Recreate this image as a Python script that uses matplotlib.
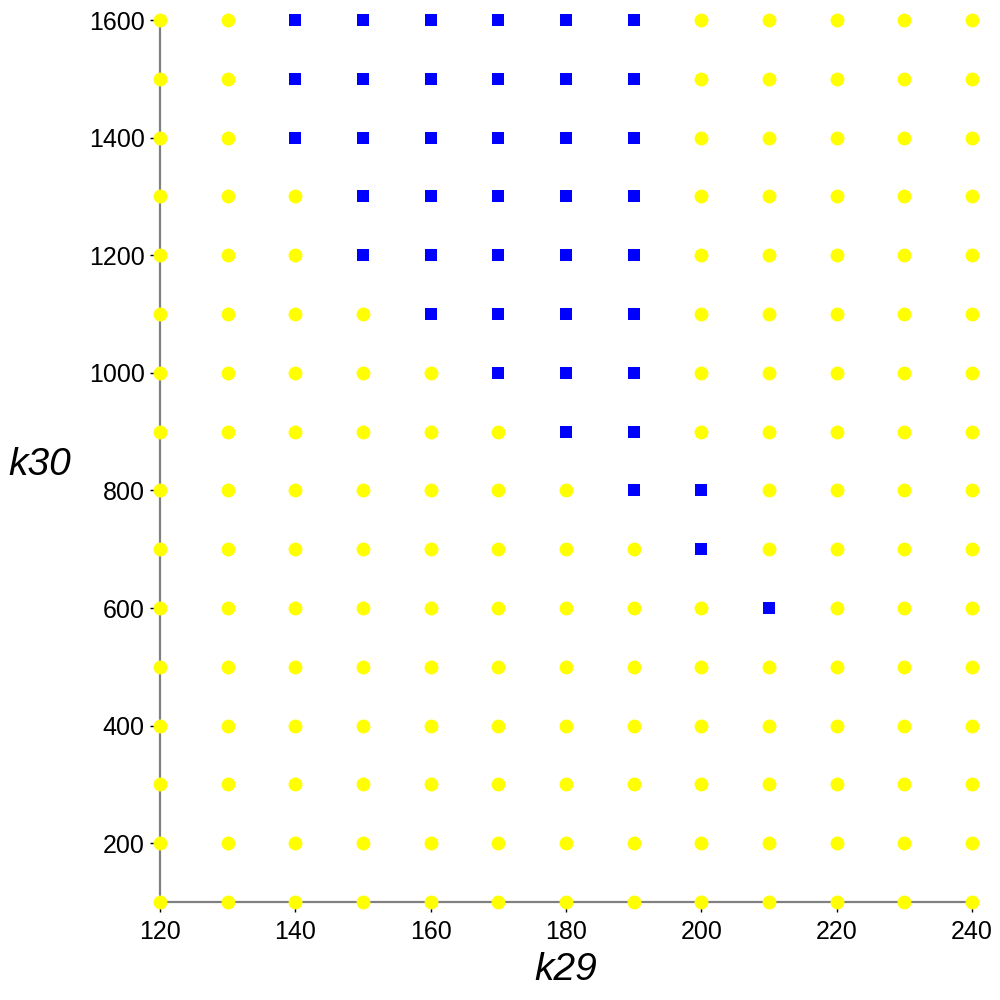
import matplotlib.pyplot as plt
import numpy as np
from matplotlib.ticker import MultipleLocator

# grid of sampled parameter values
k29_values = [120, 130, 140, 150, 160, 170, 180, 190, 200, 210, 220, 230, 240]
k30_values = [100, 200, 300, 400, 500, 600, 700, 800, 900, 1000,
              1100, 1200, 1300, 1400, 1500, 1600]

# points flagged (blue squares): k30 -> list of k29
flagged = {
    1600: [140, 150, 160, 170, 180, 190],
    1500: [140, 150, 160, 170, 180, 190],
    1400: [140, 150, 160, 170, 180, 190],
    1300: [150, 160, 170, 180, 190],
    1200: [150, 160, 170, 180, 190],
    1100: [160, 170, 180, 190],
    1000: [170, 180, 190],
    900: [180, 190],
    800: [190, 200],
    700: [200],
    600: [210],
}

blue_x, blue_y, yel_x, yel_y = [], [], [], []
for k30 in k30_values:
    for k29 in k29_values:
        if k29 in flagged.get(k30, []):
            blue_x.append(k29)
            blue_y.append(k30)
        else:
            yel_x.append(k29)
            yel_y.append(k30)

plt.rcParams["font.family"] = ["Liberation Sans", "DejaVu Sans"]

fig = plt.figure(figsize=(10, 10), dpi=100)
ax = fig.add_axes([0.16, 0.098, 0.812, 0.882])

ax.scatter(yel_x, yel_y, s=10 ** 2, marker="o", color="#FFFF00",
           linewidths=0, zorder=3, clip_on=False)
ax.scatter(blue_x, blue_y, s=8.5 ** 2, marker="s", color="#0000FF",
           linewidths=0, zorder=3, clip_on=False)

ax.set_xlim(120, 240)
ax.set_ylim(100, 1600)
ax.xaxis.set_major_locator(MultipleLocator(20))
ax.xaxis.set_minor_locator(MultipleLocator(10))
ax.yaxis.set_major_locator(MultipleLocator(200))
ax.yaxis.set_minor_locator(MultipleLocator(100))

for side in ["top", "right"]:
    ax.spines[side].set_visible(False)
for side in ["left", "bottom"]:
    ax.spines[side].set_color("#808080")
    ax.spines[side].set_linewidth(1.6)

ax.tick_params(which="major", direction="out", length=7, width=1,
               color="black", labelsize=18)
ax.tick_params(axis="x", which="major", pad=6)
ax.tick_params(axis="y", which="major", pad=4)
ax.tick_params(which="minor", direction="out", length=4, width=1,
               color="black")

ax.set_xlabel("k29", fontsize=28, style="italic", va="center")
ax.set_ylabel("k30", fontsize=28, style="italic", rotation=0,
              va="center", ha="center")
ax.xaxis.set_label_coords(0.5, -0.077)
ax.yaxis.set_label_coords(-0.148, 0.495)

fig.savefig("out.png", dpi=100)
